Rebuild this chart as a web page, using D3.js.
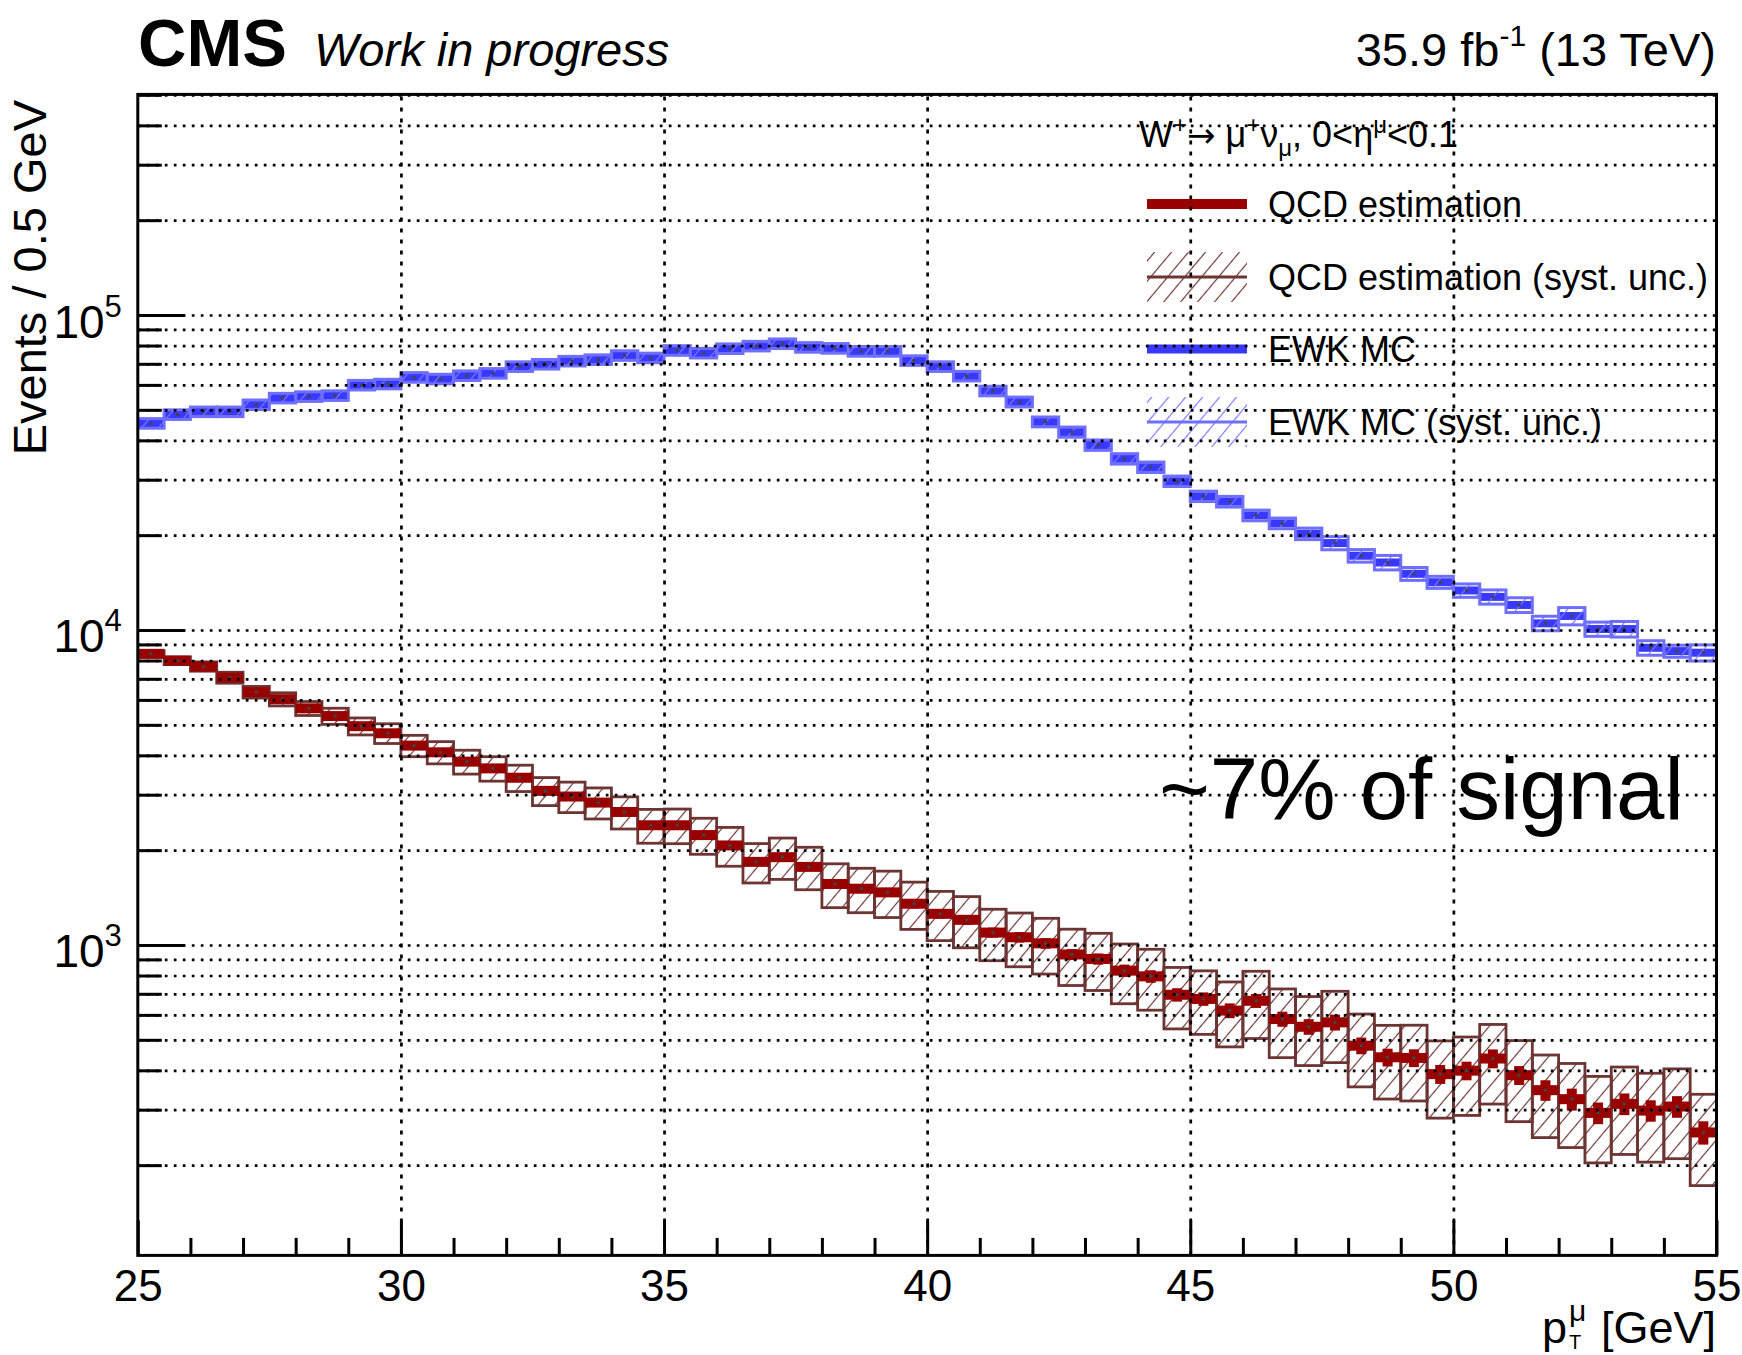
<!DOCTYPE html>
<html><head><meta charset="utf-8">
<script src="https://cdn.jsdelivr.net/npm/d3@7"></script>
<style>
body{margin:0;background:#fff}
svg{display:block}
text{font-family:"Liberation Sans",Arial,Helvetica,sans-serif;fill:#000}
</style>
</head><body>
<svg id="c" width="1742" height="1355"></svg>
<script>
// ---------------- data ----------------
const binLow = [25,25.5,26,26.5,27,27.5,28,28.5,29,29.5,30,30.5,31,31.5,32,32.5,33,33.5,34,34.5,
  35,35.5,36,36.5,37,37.5,38,38.5,39,39.5,40,40.5,41,41.5,42,42.5,43,43.5,44,44.5,
  45,45.5,46,46.5,47,47.5,48,48.5,49,49.5,50,50.5,51,51.5,52,52.5,53,53.5,54,54.5];
const binWidth = 0.5;

const ewkValues = [45300,48300,49300,49300,51900,54500,55100,55500,59900,60400,
  63400,62650,64200,65300,68600,69800,71400,72200,74400,73100,
  77200,75700,78200,79700,81100,78950,78400,76700,76700,71700,
  68600,64000,57400,52970,45800,42500,38650,34960,32880,29680,
  26580,25560,23120,21810,20210,18880,17210,16380,15080,14180,
  13350,12740,12010,10500,11080,10070,10070,8780,8570,8470];
const ewkSystRel = [0.035,0.035,0.035,0.035,0.035,0.035,0.035,0.035,0.035,0.035,
  0.035,0.035,0.035,0.035,0.035,0.035,0.035,0.035,0.035,0.035,
  0.035,0.035,0.035,0.035,0.035,0.035,0.035,0.035,0.035,0.035,
  0.035,0.035,0.035,0.036,0.036,0.037,0.038,0.038,0.038,0.038,
  0.038,0.039,0.039,0.039,0.042,0.048,0.046,0.053,0.047,0.044,
  0.049,0.052,0.054,0.053,0.063,0.052,0.057,0.053,0.044,0.059];

const qcdValues = [8400,7990,7660,7060,6350,6030,5640,5330,4950,4700,
  4295,4090,3820,3636,3396,3085,2960,2832,2644,2399,
  2399,2233,2070,1836,1900,1770,1562,1509,1469,1352,
  1256,1202,1095,1058,1012,933,903,829,795,695,
  674,619,665,582,550,568,479,440,438,389,
  399,436,386,346,324,293,313,298,307,254];
const qcdStatRel = [0.014,0.015,0.015,0.016,0.017,0.017,0.018,0.018,0.019,0.019,
  0.020,0.021,0.021,0.022,0.022,0.023,0.024,0.024,0.025,0.026,
  0.026,0.027,0.028,0.029,0.029,0.030,0.031,0.032,0.033,0.034,
  0.035,0.036,0.037,0.038,0.039,0.040,0.041,0.045,0.046,0.049,
  0.049,0.054,0.051,0.055,0.057,0.058,0.061,0.065,0.065,0.069,
  0.068,0.069,0.069,0.075,0.080,0.079,0.079,0.078,0.079,0.085];
const qcdSystRel = [0.023,0.0285,0.034,0.040,0.0425,0.048,0.051,0.059,0.062,0.072,
  0.078,0.081,0.087,0.089,0.096,0.102,0.111,0.113,0.117,0.123,
  0.126,0.131,0.141,0.143,0.150,0.154,0.159,0.161,0.168,0.171,
  0.178,0.185,0.186,0.194,0.201,0.203,0.206,0.215,0.219,0.221,
  0.228,0.233,0.241,0.246,0.247,0.255,0.260,0.263,0.270,0.275,
  0.279,0.283,0.288,0.293,0.298,0.306,0.309,0.314,0.317,0.322];

const xMajorTicks = [25,30,35,40,45,50,55];
const xMinorTicks = [26,27,28,29,31,32,33,34,36,37,38,39,41,42,43,44,46,47,48,49,51,52,53,54];
const xGrid = [30,35,40,45,50];
const yMajorTicks = [1e3,1e4,1e5];
const yMajorExp = ["3","4","5"];
const yMinorTicks = [200,300,400,500,600,700,800,900,
  2000,3000,4000,5000,6000,7000,8000,9000,
  20000,30000,40000,50000,60000,70000,80000,90000,
  200000,300000,400000,500000];
const legendLabels = ["QCD estimation","QCD estimation (syst. unc.)","EWK MC","EWK MC (syst. unc.)"];

// ---------------- layout ----------------
const W = 1742, H = 1355;
const M = {l:137.8, r:1716.5, t:94.4, b:1255.4};
const x = d3.scaleLinear().domain([25,55]).range([M.l,M.r]);
const y = d3.scaleLog().domain([103.4,501600]).range([M.b,M.t]);

const C = {
  ewk:"#3838ff", ewkBox:"#6e6eff", ewkHatch:"#7a7aff",
  qcd:"#990000", qcdBox:"#6d3434", qcdHatch:"#6d3434", dot:"#444"
};

const svg = d3.select("#c");
svg.append("rect").attr("width",W).attr("height",H).attr("fill","#fff");
const defs = svg.append("defs");
function hatch(id,color){
  const p = defs.append("pattern").attr("id",id).attr("patternUnits","userSpaceOnUse")
    .attr("width",13).attr("height",13).attr("patternTransform","rotate(40)");
  p.append("line").attr("x1",6.5).attr("x2",6.5).attr("y1",-1).attr("y2",14)
    .attr("stroke",color).attr("stroke-width",1.2);
}
hatch("hR",C.qcdHatch);
hatch("hB",C.ewkHatch);
defs.append("clipPath").attr("id","plotClip").append("rect")
  .attr("x",M.l).attr("y",M.t).attr("width",M.r-M.l).attr("height",M.b-M.t);

const data = svg.append("g").attr("clip-path","url(#plotClip)");
const idx = d3.range(binLow.length);

// EWK: thick line, then hatched syst box
const gE = data.append("g");
gE.selectAll("rect.bar").data(idx).join("rect").attr("class","bar")
  .attr("x",i=>x(binLow[i])).attr("width",i=>x(binLow[i]+binWidth)-x(binLow[i]))
  .attr("y",i=>y(ewkValues[i])-4).attr("height",8).attr("fill",C.ewk);
gE.selectAll("rect.box").data(idx).join("rect").attr("class","box")
  .attr("x",i=>x(binLow[i])).attr("width",i=>x(binLow[i]+binWidth)-x(binLow[i]))
  .attr("y",i=>y(ewkValues[i]*(1+ewkSystRel[i])))
  .attr("height",i=>y(ewkValues[i]*(1-ewkSystRel[i]))-y(ewkValues[i]*(1+ewkSystRel[i])))
  .attr("fill","url(#hB)").attr("stroke",C.ewkBox).attr("stroke-width",3);
gE.selectAll("rect.dot").data(idx).join("rect").attr("class","dot")
  .attr("x",i=>x(binLow[i]+binWidth/2)-1.5).attr("y",i=>y(ewkValues[i])-1.5)
  .attr("width",3).attr("height",3).attr("fill",C.dot);

// QCD: hatched syst box, then thick line + stat bar
const gQ = data.append("g");
gQ.selectAll("rect.box").data(idx).join("rect").attr("class","box")
  .attr("x",i=>x(binLow[i])).attr("width",i=>x(binLow[i]+binWidth)-x(binLow[i]))
  .attr("y",i=>y(qcdValues[i]*(1+qcdSystRel[i])))
  .attr("height",i=>y(qcdValues[i]*(1-qcdSystRel[i]))-y(qcdValues[i]*(1+qcdSystRel[i])))
  .attr("fill","url(#hR)").attr("stroke",C.qcdBox).attr("stroke-width",2.8);
gQ.selectAll("rect.bar").data(idx).join("rect").attr("class","bar")
  .attr("x",i=>x(binLow[i])).attr("width",i=>x(binLow[i]+binWidth)-x(binLow[i]))
  .attr("y",i=>y(qcdValues[i])-5).attr("height",10).attr("fill",C.qcd);
gQ.selectAll("rect.err").data(idx).join("rect").attr("class","err")
  .attr("x",i=>x(binLow[i]+binWidth/2)-5).attr("width",10)
  .attr("y",i=>y(qcdValues[i]*(1+qcdStatRel[i])))
  .attr("height",i=>y(qcdValues[i]*(1-qcdStatRel[i]))-y(qcdValues[i]*(1+qcdStatRel[i])))
  .attr("fill",C.qcd);
gQ.selectAll("rect.dot").data(idx).join("rect").attr("class","dot")
  .attr("x",i=>x(binLow[i]+binWidth/2)-1.5).attr("y",i=>y(qcdValues[i])-1.5)
  .attr("width",3).attr("height",3).attr("fill",C.dot);

// ---------------- legend ----------------
const leg = svg.append("g");
const lx0 = 1147, lx1 = 1247, ltx = 1268;
const rowY = [204,277,349,422];
// header
const hdr = leg.append("text").attr("x",1139).attr("y",147).attr("font-size",36);
hdr.append("tspan").text("W");
hdr.append("tspan").attr("dy",-14).attr("font-size",24).text("+");
hdr.append("tspan").attr("dy",14).attr("font-family","DejaVu Sans").attr("font-size",34).text("\u2192");
hdr.append("tspan").text(" \u03bc");
hdr.append("tspan").attr("dy",-14).attr("font-size",24).text("+");
hdr.append("tspan").attr("dy",14).text("\u03bd");
hdr.append("tspan").attr("dy",9).attr("font-size",24).text("\u03bc");
hdr.append("tspan").attr("dy",-9).text(", 0<\u03b7");
hdr.append("tspan").attr("dy",-14).attr("font-size",24).text("\u03bc");
hdr.append("tspan").attr("dy",14).text("<0.1");

leg.append("rect").attr("x",lx0).attr("y",rowY[0]-5).attr("width",lx1-lx0).attr("height",10).attr("fill",C.qcd);
leg.append("rect").attr("x",lx0).attr("y",rowY[1]-25).attr("width",lx1-lx0).attr("height",50).attr("fill","url(#hR)");
leg.append("rect").attr("x",lx0).attr("y",rowY[1]-1.5).attr("width",lx1-lx0).attr("height",3).attr("fill",C.qcdBox);
leg.append("rect").attr("x",lx0).attr("y",rowY[2]-4.5).attr("width",lx1-lx0).attr("height",9).attr("fill",C.ewk);
leg.append("rect").attr("x",lx0).attr("y",rowY[3]-25).attr("width",lx1-lx0).attr("height",50).attr("fill","url(#hB)");
leg.append("rect").attr("x",lx0).attr("y",rowY[3]-1.5).attr("width",lx1-lx0).attr("height",3).attr("fill",C.ewkBox);
leg.selectAll("text.lab").data(legendLabels).join("text").attr("class","lab")
  .attr("x",ltx).attr("y",(d,i)=>rowY[i]+13).attr("font-size",36).text(d=>d);

// annotation
svg.append("text").attr("x",1159).attr("y",819).attr("font-size",87).text("~7% of signal");

// ---------------- grid (drawn on top, like ROOT) ----------------
const grid = svg.append("g");
grid.append("g").attr("transform",`translate(${M.l},0)`)
  .call(d3.axisLeft(y).tickValues(yMajorTicks.concat(yMinorTicks)).tickSize(-(M.r-M.l)).tickFormat(""))
  .call(g=>{g.select(".domain").remove(); g.selectAll("text").remove();
    g.selectAll("line").attr("stroke","#000").attr("stroke-width",2.7).attr("stroke-dasharray","2.7 6.3");});
grid.append("g").attr("transform",`translate(0,${M.b})`)
  .call(d3.axisBottom(x).tickValues(xGrid).tickSize(-(M.b-M.t)).tickFormat(""))
  .call(g=>{g.select(".domain").remove(); g.selectAll("text").remove();
    g.selectAll("line").attr("stroke","#000").attr("stroke-width",2.7).attr("stroke-dasharray","4 7");});

// ---------------- axes ----------------
const yMaj = svg.append("g").attr("transform",`translate(${M.l},0)`)
  .call(d3.axisLeft(y).tickValues(yMajorTicks).tickSizeInner(-47).tickSizeOuter(0).tickFormat(""));
yMaj.select(".domain").remove();
yMaj.selectAll("line").attr("stroke","#000").attr("stroke-width",3);
yMaj.selectAll(".tick text").remove();
yMaj.selectAll(".tick").each(function(d,i){
  const t = d3.select(this).append("text").attr("x",-16).attr("y",22)
    .attr("text-anchor","end").attr("font-size",46).attr("fill","#000");
  t.append("tspan").text("10");
  t.append("tspan").attr("dy",-21).attr("font-size",31).text(yMajorExp[i]);
});
const yMin = svg.append("g").attr("transform",`translate(${M.l},0)`)
  .call(d3.axisLeft(y).tickValues(yMinorTicks).tickSizeInner(-24).tickSizeOuter(0).tickFormat(""));
yMin.select(".domain").remove();
yMin.selectAll("text").remove();
yMin.selectAll("line").attr("stroke","#000").attr("stroke-width",3);

const xMaj = svg.append("g").attr("transform",`translate(0,${M.b})`)
  .call(d3.axisBottom(x).tickValues(xMajorTicks).tickSizeInner(-35).tickSizeOuter(0).tickPadding(14));
xMaj.select(".domain").remove();
xMaj.selectAll("line").attr("stroke","#000").attr("stroke-width",3);
xMaj.selectAll("text").attr("font-size",44).attr("font-family","Liberation Sans, Arial, sans-serif").attr("fill","#000");
const xMin = svg.append("g").attr("transform",`translate(0,${M.b})`)
  .call(d3.axisBottom(x).tickValues(xMinorTicks).tickSizeInner(-17.5).tickSizeOuter(0).tickFormat(""));
xMin.select(".domain").remove();
xMin.selectAll("text").remove();
xMin.selectAll("line").attr("stroke","#000").attr("stroke-width",3);

// frame
svg.append("rect").attr("x",M.l).attr("y",M.t).attr("width",M.r-M.l).attr("height",M.b-M.t)
  .attr("fill","none").attr("stroke","#000").attr("stroke-width",3);

// axis titles
svg.append("text").attr("transform","translate(46,100) rotate(-90)").attr("text-anchor","end")
  .attr("font-size",47).text("Events / 0.5 GeV");
const gev = svg.append("text").attr("x",1716).attr("y",1343).attr("text-anchor","end")
  .attr("font-size",45).text("[GeV]");
const gw = gev.node().getComputedTextLength();
const pEnd = 1716 - gw - 14;
svg.append("text").attr("x",pEnd - 20).attr("y",1343).attr("text-anchor","end").attr("font-size",45).text("p");
svg.append("text").attr("x",pEnd - 18).attr("y",1321).attr("font-size",30).text("\u03bc");
svg.append("text").attr("x",pEnd - 18).attr("y",1349).attr("font-size",20).text("T");

// titles
svg.append("text").attr("x",138).attr("y",66).attr("font-size",67).attr("font-weight","bold").text("CMS");
svg.append("text").attr("x",314).attr("y",66).attr("font-size",47).attr("font-style","italic").text("Work in progress");
const lumi = svg.append("text").attr("x",1716).attr("y",66).attr("text-anchor","end").attr("font-size",47);
lumi.append("tspan").text("35.9 fb");
lumi.append("tspan").attr("dy",-20).attr("font-size",30).text("-1");
lumi.append("tspan").attr("dy",20).text(" (13 TeV)");
</script>
</body></html>
